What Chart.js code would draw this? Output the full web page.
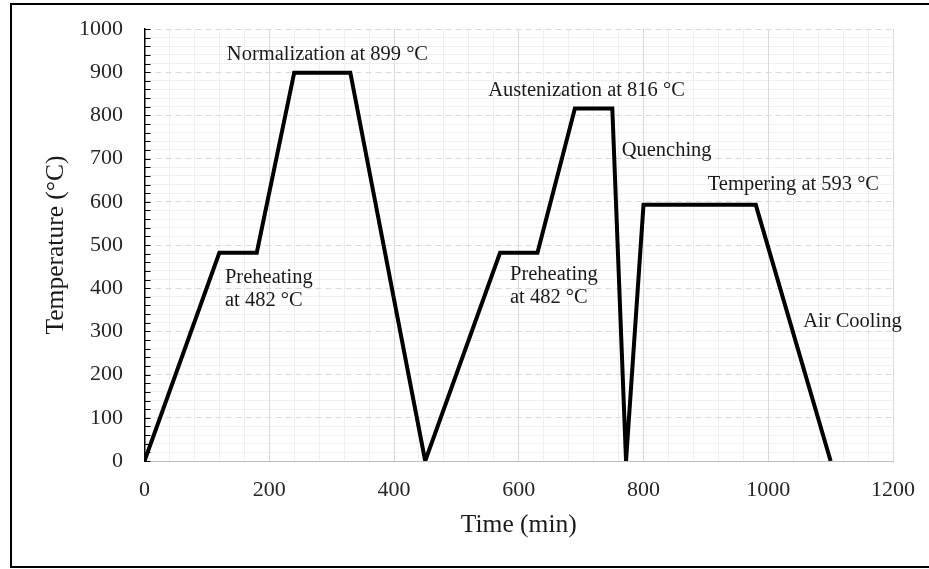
<!DOCTYPE html>
<html>
<head>
<meta charset="utf-8">
<script src="https://cdn.jsdelivr.net/npm/chart.js@4/dist/chart.umd.min.js"></script>
<style>
  html, body { margin: 0; padding: 0; background: #fff; overflow: hidden; }
  #wrap { position: relative; width: 929px; height: 569px; }
  #frame {
    position: absolute; left: 10px; top: 3px; width: 940px; height: 561px;
    border: 2px solid #000; pointer-events: none;
  }
  canvas { position: absolute; left: 0; top: 0; }
</style>
</head>
<body>
<div id="wrap">
  <canvas id="chart" width="929" height="569"></canvas>
  <div id="frame"></div>
</div>
<script>
// heat treatment schedule, time (min) vs temperature (°C)
const TIMES = [0, 120, 180, 240, 330, 450, 570, 630, 690, 750, 772, 800, 980, 1100];
const TEMPS = [0, 482, 482, 899, 899, 0, 482, 482, 816, 816, 0, 593, 593, 0];

const X_TICKS = [0, 200, 400, 600, 800, 1000, 1200];
const Y_TICKS = [0, 100, 200, 300, 400, 500, 600, 700, 800, 900, 1000];

// stage notes, anchored at (time, temperature) = left edge / first baseline
const NOTE_TEXT = [
  ["Normalization at 899 °C"],
  ["Austenization at 816 °C"],
  ["Quenching"],
  ["Tempering at 593 °C"],
  ["Air Cooling"],
  ["Preheating", "at 482 °C"],
  ["Preheating", "at 482 °C"],
];
const NOTE_X = [132, 551, 765, 903, 1056, 129, 586];
const NOTE_Y = [928, 845, 706, 627, 310, 413, 420];

const SERIF = "'Liberation Serif', 'DejaVu Serif', serif";

const notesPlugin = {
  id: "notes",
  afterDatasetsDraw(chart) {
    const { ctx, scales } = chart;
    ctx.save();
    ctx.font = "20.5px " + SERIF;
    ctx.fillStyle = "#1a1a1a";
    ctx.textAlign = "left";
    ctx.textBaseline = "alphabetic";
    NOTE_TEXT.forEach((lines, i) => {
      const px = scales.x.getPixelForValue(NOTE_X[i]);
      const py = scales.y.getPixelForValue(NOTE_Y[i]);
      lines.forEach((t, j) => ctx.fillText(t, px, py + j * 23.5));
    });
    ctx.restore();
  },
};

// small inward tick marks on the vertical axis
const innerTicks = {
  id: "innerTicks",
  beforeDatasetsDraw(chart) {
    const { ctx, scales, chartArea } = chart;
    ctx.save();
    ctx.strokeStyle = "#000";
    ctx.lineWidth = 1;
    ctx.beginPath();
    scales.yMinor.ticks.forEach(t => {
      const y = Math.round(scales.yMinor.getPixelForValue(t.value)) + 0.5;
      ctx.moveTo(chartArea.left, y);
      ctx.lineTo(chartArea.left + 6, y);
    });
    ctx.stroke();
    ctx.restore();
  },
};

// keep the label overhang from shrinking the plot area
function noOverhang(s) {
  s.paddingTop = 0; s.paddingBottom = 0;
  s.paddingLeft = 0; s.paddingRight = 0;
}

const points = TIMES.map((t, i) => ({ x: t, y: TEMPS[i] }));

new Chart(document.getElementById("chart"), {
  type: "line",
  data: {
    datasets: [{
      data: points,
      borderColor: "#000",
      borderWidth: 4,
      borderJoinStyle: "miter",
      pointRadius: 0,
      tension: 0,
      fill: false,
    }],
  },
  options: {
    responsive: false,
    animation: false,
    devicePixelRatio: 1,
    layout: { padding: { top: 29, right: 36, bottom: 0, left: 0 } },
    plugins: { legend: { display: false }, tooltip: { enabled: false } },
    scales: {
      xMinor: {
        type: "linear", position: "bottom", min: 0, max: 1200,
        ticks: { display: false, stepSize: 40 },
        grid: { drawTicks: false, color: c => (c.tick && c.tick.value % 200 === 0) ? "rgba(0,0,0,0)" : "#efefef" },
        border: { display: false },
        afterFit: s => { s.height = 0; noOverhang(s); },
      },
      yMinor: {
        type: "linear", position: "left", min: 0, max: 1000,
        ticks: { display: false, stepSize: 20 },
        grid: { drawTicks: false, color: c => (c.tick && c.tick.value % 100 === 0) ? "rgba(0,0,0,0)" : "#efefef" },
        border: { display: false },
        afterFit: s => { s.width = 0; noOverhang(s); },
      },
      x: {
        type: "linear", position: "bottom", min: 0, max: 1200,
        afterBuildTicks: s => { s.ticks = X_TICKS.map(v => ({ value: v })); },
        ticks: {
          padding: 16, color: "#262626",
          font: { family: SERIF, size: 22 },
          callback: v => String(v),
        },
        grid: { drawTicks: false, color: "#d9d9d9", lineWidth: 1 },
        border: { display: true, color: "#bfbfbf", width: 1 },
        title: {
          display: true, text: "Time (min)", color: "#1a1a1a",
          font: { family: SERIF, size: 25.5 }, padding: { top: 0, bottom: 28 },
        },
        afterFit: s => { s.height = 108; noOverhang(s); },
      },
      y: {
        type: "linear", position: "left", min: 0, max: 1000,
        afterBuildTicks: s => { s.ticks = Y_TICKS.map(v => ({ value: v })); },
        ticks: {
          padding: 21.5, color: "#262626",
          font: { family: SERIF, size: 22 },
          callback: v => String(v),
        },
        grid: { drawTicks: false, color: "#d9d9d9", lineWidth: 1 },
        border: { display: true, color: "#000", width: 1.5, dash: [6, 4] },
        title: {
          display: true, text: "Temperature (°C)", color: "#1a1a1a",
          font: { family: SERIF, size: 25.5 }, padding: { top: 41, bottom: 0 },
        },
        afterFit: s => { s.width = 144.5; noOverhang(s); },
      },
    },
  },
  plugins: [innerTicks, notesPlugin],
});
</script>
</body>
</html>
